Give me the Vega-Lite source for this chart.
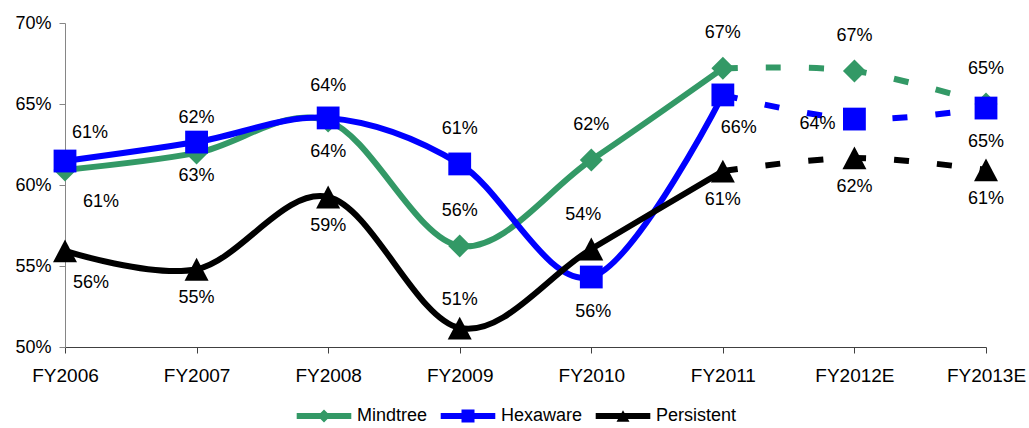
{
  "$schema": "https://vega.github.io/schema/vega-lite/v6.json",
  "width": 921,
  "height": 324,
  "autosize": {"type": "none"},
  "padding": {"left": 65, "top": 23, "right": 43, "bottom": 81},
  "config": {
    "view": {"stroke": null},
    "font": "Liberation Sans",
    "text": {"font": "Liberation Sans", "fontSize": 18, "color": "#000000"},
    "legend": {"layout": {"bottom": {"anchor": "middle"}}}
  },
  "data": {
    "values": [
      {"series": "Mindtree", "year": "FY2006", "value": 0.6093},
      {"series": "Mindtree", "year": "FY2007", "value": 0.6198},
      {"series": "Mindtree", "year": "FY2008", "value": 0.6395},
      {"series": "Mindtree", "year": "FY2009", "value": 0.5624},
      {"series": "Mindtree", "year": "FY2010", "value": 0.6154},
      {"series": "Mindtree", "year": "FY2011", "value": 0.6720},
      {"series": "Mindtree", "year": "FY2012E", "value": 0.6704},
      {"series": "Mindtree", "year": "FY2013E", "value": 0.6500},
      {"series": "Hexaware", "year": "FY2006", "value": 0.6148},
      {"series": "Hexaware", "year": "FY2007", "value": 0.6265},
      {"series": "Hexaware", "year": "FY2008", "value": 0.6414},
      {"series": "Hexaware", "year": "FY2009", "value": 0.6130},
      {"series": "Hexaware", "year": "FY2010", "value": 0.5432},
      {"series": "Hexaware", "year": "FY2011", "value": 0.6556},
      {"series": "Hexaware", "year": "FY2012E", "value": 0.6407},
      {"series": "Hexaware", "year": "FY2013E", "value": 0.6475},
      {"series": "Persistent", "year": "FY2006", "value": 0.5593},
      {"series": "Persistent", "year": "FY2007", "value": 0.5480},
      {"series": "Persistent", "year": "FY2008", "value": 0.5926},
      {"series": "Persistent", "year": "FY2009", "value": 0.5117},
      {"series": "Persistent", "year": "FY2010", "value": 0.5605},
      {"series": "Persistent", "year": "FY2011", "value": 0.6086},
      {"series": "Persistent", "year": "FY2012E", "value": 0.6167},
      {"series": "Persistent", "year": "FY2013E", "value": 0.6093}
    ]
  },
  "encoding": {
    "x": {
      "field": "year",
      "type": "ordinal",
      "scale": {"type": "point", "padding": 0,
        "domain": ["FY2006", "FY2007", "FY2008", "FY2009", "FY2010", "FY2011", "FY2012E", "FY2013E"]},
      "axis": {
        "title": null, "labelAngle": 0, "grid": false,
        "domainColor": "#404040", "tickColor": "#404040", "tickSize": 6,
        "labelFont": "Liberation Sans", "labelFontSize": 19, "labelColor": "#000000",
        "labelPadding": 13
      }
    },
    "y": {
      "field": "value",
      "type": "quantitative",
      "scale": {"domain": [0.5, 0.7], "nice": false, "zero": false},
      "axis": {
        "title": null, "grid": false, "values": [0.5, 0.55, 0.6, 0.65, 0.7], "format": ".0%",
        "domainColor": "#868686", "tickColor": "#868686", "tickSize": 6,
        "labelFont": "Liberation Sans", "labelFontSize": 18, "labelColor": "#000000",
        "labelPadding": 8
      }
    },
    "color": {
      "field": "series",
      "type": "nominal",
      "scale": {"domain": ["Mindtree", "Hexaware", "Persistent"], "range": ["#339966", "#0000ff", "#000000"]},
      "legend": {
        "orient": "bottom",
        "direction": "horizontal",
        "title": null,
        "offset": 22,
        "labelFont": "Liberation Sans",
        "labelFontSize": 18,
        "labelColor": "#000000",
        "symbolSize": 169,
        "labelOffset": 24,
        "columnPadding": 12,
        "encode": {
          "symbols": {
            "update": {
              "shape": {"signal": "datum.value === 'Mindtree' ? 'M-4.2,-0.45L4.2,-0.45L4.2,0.45L-4.2,0.45ZM-1,0L0,-1L1,0L0,1Z' : datum.value === 'Hexaware' ? 'M-4.2,-0.45L4.2,-0.45L4.2,0.45L-4.2,0.45ZM-1,-1L1,-1L1,1L-1,1Z' : 'M-4.2,-0.45L4.2,-0.45L4.2,0.45L-4.2,0.45ZM-1,0.9L0,-0.9L1,0.9Z'"},
              "fill": {"signal": "datum.value === 'Mindtree' ? '#339966' : datum.value === 'Hexaware' ? '#0000ff' : '#000000'"},
              "stroke": {"value": "transparent"},
              "strokeWidth": {"value": 0},
              "opacity": {"value": 1}
            }
          }
        }
      }
    }
  },
  "layer": [
    {
      "transform": [{"filter": {"field": "year", "oneOf": ["FY2006", "FY2007", "FY2008", "FY2009", "FY2010", "FY2011"]}}],
      "mark": {"type": "line", "interpolate": "cardinal", "strokeWidth": 6, "strokeJoin": "round"}
    },
    {
      "transform": [{"filter": {"field": "year", "oneOf": ["FY2011", "FY2012E", "FY2013E"]}}],
      "mark": {"type": "line", "interpolate": "cardinal", "strokeWidth": 6, "strokeDash": [15, 28], "strokeCap": "butt"}
    },
    {
      "transform": [{"filter": {"field": "series", "equal": "Mindtree"}}],
      "mark": {"type": "point", "shape": "diamond", "filled": true, "opacity": 1, "size": 529, "strokeWidth": 0}
    },
    {
      "transform": [{"filter": {"field": "series", "equal": "Hexaware"}}],
      "mark": {"type": "point", "shape": "square", "filled": true, "opacity": 1, "size": 520, "strokeWidth": 0}
    },
    {
      "transform": [{"filter": {"field": "series", "equal": "Persistent"}}],
      "mark": {"type": "point", "shape": "M-1,0.95L0,-0.95L1,0.95Z", "filled": true, "opacity": 1, "size": 576, "strokeWidth": 0}
    },
    {
      "transform": [{"filter": "(datum.series === 'Mindtree' && datum.year !== 'FY2006') || (datum.series === 'Hexaware' && datum.year === 'FY2009')"}],
      "mark": {"type": "text", "dy": -35},
      "encoding": {"text": {"field": "value", "type": "quantitative", "format": ".0%"}, "color": {"value": "#000000"}}
    },
    {
      "transform": [{"filter": "datum.series === 'Hexaware' && indexof(['FY2007', 'FY2008', 'FY2013E'], datum.year) >= 0"}],
      "mark": {"type": "text", "dy": 34},
      "encoding": {"text": {"field": "value", "type": "quantitative", "format": ".0%"}, "color": {"value": "#000000"}}
    },
    {
      "transform": [{"filter": "datum.series === 'Persistent' && indexof(['FY2007', 'FY2008', 'FY2011', 'FY2012E', 'FY2013E'], datum.year) >= 0"}],
      "mark": {"type": "text", "dy": 29},
      "encoding": {"text": {"field": "value", "type": "quantitative", "format": ".0%"}, "color": {"value": "#000000"}}
    },
    {
      "transform": [{"filter": "datum.series === 'Persistent' && datum.year === 'FY2009'"}],
      "mark": {"type": "text", "dy": -28},
      "encoding": {"text": {"field": "value", "type": "quantitative", "format": ".0%"}, "color": {"value": "#000000"}}
    },
    {
      "transform": [{"filter": "datum.series === 'Mindtree' && datum.year === 'FY2006'"}],
      "mark": {"type": "text", "dx": 25, "dy": -37},
      "encoding": {"text": {"field": "value", "type": "quantitative", "format": ".0%"}, "color": {"value": "#000000"}}
    },
    {
      "transform": [{"filter": "datum.series === 'Hexaware' && datum.year === 'FY2006'"}],
      "mark": {"type": "text", "dx": 36, "dy": 41},
      "encoding": {"text": {"field": "value", "type": "quantitative", "format": ".0%"}, "color": {"value": "#000000"}}
    },
    {
      "transform": [{"filter": "datum.series === 'Persistent' && datum.year === 'FY2006'"}],
      "mark": {"type": "text", "dx": 26, "dy": 32},
      "encoding": {"text": {"field": "value", "type": "quantitative", "format": ".0%"}, "color": {"value": "#000000"}}
    },
    {
      "transform": [{"filter": "datum.series === 'Hexaware' && datum.year === 'FY2010'"}],
      "mark": {"type": "text", "dx": -8, "dy": -62},
      "encoding": {"text": {"field": "value", "type": "quantitative", "format": ".0%"}, "color": {"value": "#000000"}}
    },
    {
      "transform": [{"filter": "datum.series === 'Persistent' && datum.year === 'FY2010'"}],
      "mark": {"type": "text", "dx": 2, "dy": 63},
      "encoding": {"text": {"field": "value", "type": "quantitative", "format": ".0%"}, "color": {"value": "#000000"}}
    },
    {
      "transform": [{"filter": "datum.series === 'Hexaware' && datum.year === 'FY2011'"}],
      "mark": {"type": "text", "dx": 16, "dy": 33},
      "encoding": {"text": {"field": "value", "type": "quantitative", "format": ".0%"}, "color": {"value": "#000000"}}
    },
    {
      "transform": [{"filter": "datum.series === 'Hexaware' && datum.year === 'FY2012E'"}],
      "mark": {"type": "text", "dx": -37, "dy": 5},
      "encoding": {"text": {"field": "value", "type": "quantitative", "format": ".0%"}, "color": {"value": "#000000"}}
    }
  ]
}
